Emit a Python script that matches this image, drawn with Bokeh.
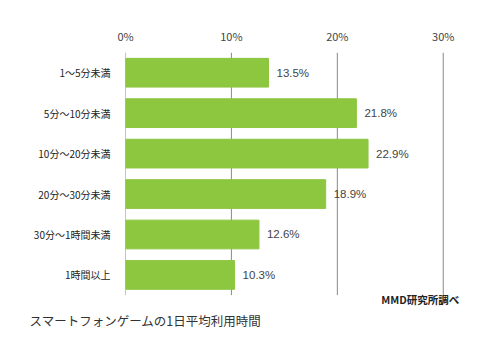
from bokeh.plotting import figure
from bokeh.models import Range1d, FixedTicker, Label, Title
from bokeh.embed import file_html
from bokeh.resources import INLINE

categories = ["1〜5分未満", "5分〜10分未満", "10分〜20分未満", "20分〜30分未満", "30分〜1時間未満", "1時間以上"]
values = [13.5, 21.8, 22.9, 18.9, 12.6, 10.3]
x_ticks = [0, 10, 20, 30]
x_tick_labels = ["0%", "10%", "20%", "30%"]
caption = "スマートフォンゲームの1日平均利用時間"
source_note = "MMD研究所調べ"

n = len(categories)
ys = [n - 1 - i for i in range(n)]

FONT = "Noto Sans CJK JP"

p = figure(width=504, height=354, output_backend="svg", toolbar_location=None,
           x_range=Range1d(0, 35.5), y_range=Range1d(-0.83, n - 0.5),
           x_axis_location="above", min_border_left=125, min_border_right=3,
           min_border_top=52, min_border_bottom=46)
p.outline_line_color = None
p.background_fill_color = "white"
p.border_fill_color = "white"

# vertical grid lines (0-30%) spanning the category band only
p.segment(x0=x_ticks, x1=x_ticks, y0=[-0.5] * len(x_ticks), y1=[n - 0.5] * len(x_ticks),
          line_color="#8a8a8a", line_width=1)

p.hbar(y=ys, right=values, left=0, height=0.71, color="#8DC63F")

# x axis (top)
xa = p.xaxis[0]
xa.ticker = FixedTicker(ticks=x_ticks)
xa.major_label_overrides = {t: l for t, l in zip(x_ticks, x_tick_labels)}
xa.axis_line_color = None
xa.major_tick_line_color = None
xa.minor_tick_line_color = None
xa.major_label_text_font = FONT
xa.major_label_text_font_size = "11px"
xa.major_label_text_color = "#444444"
xa.major_label_standoff = 3

# y axis (left)
ya = p.yaxis[0]
ya.ticker = FixedTicker(ticks=ys)
ya.major_label_overrides = {y: c for y, c in zip(ys, categories)}
ya.axis_line_color = None
ya.major_tick_line_color = None
ya.minor_tick_line_color = None
ya.major_label_text_font = FONT
ya.major_label_text_font_size = "10px"
ya.major_label_text_color = "#222222"
ya.major_label_standoff = 9

p.xgrid.grid_line_color = None
p.ygrid.grid_line_color = None

p.text(x=values, y=ys, text=[f"{v}%" for v in values], x_offset=8,
       text_baseline="middle", text_align="left", text_font_size="11.5px",
       text_color="#444444", text_font={"value": "Liberation Sans"})

p.add_layout(Label(x=24.15, y=-0.6, text=source_note, text_font=FONT,
                   text_font_size="10.5px", text_font_style="bold",
                   text_color="#222222", text_baseline="middle"))

p.add_layout(Title(text=caption, align="left", offset=-96, standoff=1,
                   text_font=FONT, text_font_size="12.5px",
                   text_font_style="normal", text_color="#333333"), "below")

open("out.html", "w").write(file_html(p, INLINE))
